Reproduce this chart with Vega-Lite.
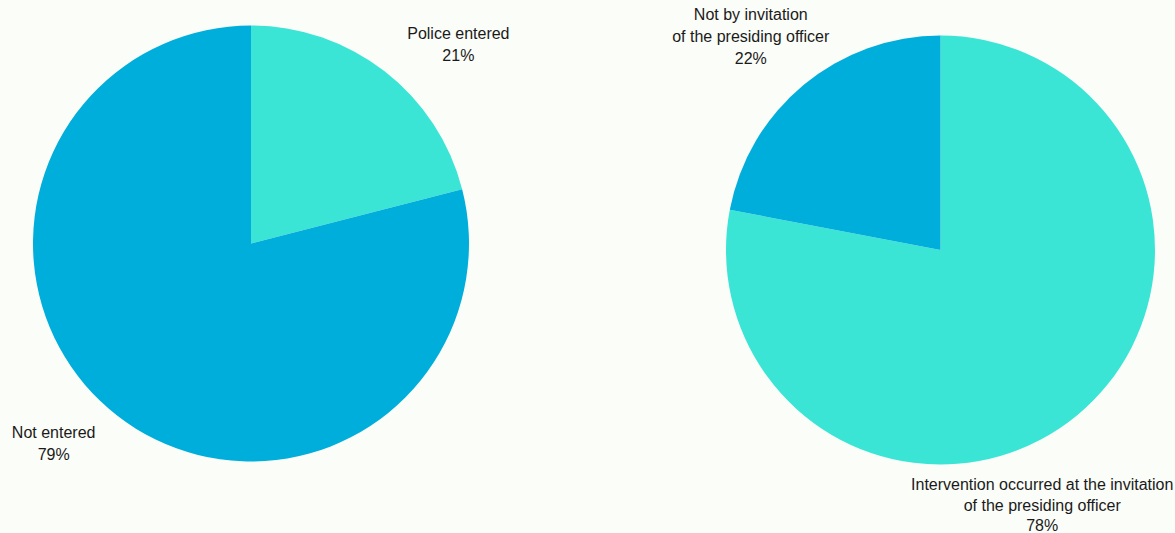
{
  "$schema": "https://vega.github.io/schema/vega-lite/v6.json",
  "background": "#FBFDF8",
  "padding": 0,
  "spacing": 204,
  "bounds": "flush",
  "config": {"view": {"stroke": null}, "text": {"font": "Liberation Sans", "fontSize": 16, "lineHeight": 22, "color": "#1a1a1a", "lineBreak": "\n", "baseline": "middle", "align": "center"}},
  "resolve": {"scale": {"color": "independent", "theta": "independent"}},
  "hconcat": [
    {
      "width": 502,
      "height": 487,
      "data": {"values": [
        {"category": "Police entered", "value": 21, "ord": 1, "label": "Police entered\n21%"},
        {"category": "Not entered", "value": 79, "ord": 2, "label": "Not entered\n79%"}
      ]},
      "encoding": {
        "theta": {"field": "value", "type": "quantitative", "stack": true},
        "order": {"field": "ord", "type": "quantitative"}
      },
      "layer": [
        {
          "mark": {"type": "arc", "outerRadius": 218},
          "encoding": {
            "color": {"field": "category", "type": "nominal", "legend": null,
              "scale": {"domain": ["Police entered", "Not entered"], "range": ["#3BE5D6", "#00AEDC"]}}
          }
        },
        {
          "mark": {"type": "text", "radius": 260, "dx": 48, "dy": -4},
          "encoding": {"text": {"condition": {"test": "datum.category === 'Police entered'", "field": "label"}, "value": ""}}
        },
        {
          "mark": {"type": "text", "radius": 260, "dx": -38, "dy": -16},
          "encoding": {"text": {"condition": {"test": "datum.category === 'Not entered'", "field": "label"}, "value": ""}}
        }
      ]
    },
    {
      "width": 469,
      "height": 500,
      "data": {"values": [
        {"category": "Intervention occurred at the invitation of the presiding officer", "value": 78, "ord": 1, "label": "Intervention occurred at the invitation\nof the presiding officer\n78%"},
        {"category": "Not by invitation of the presiding officer", "value": 22, "ord": 2, "label": "Not by invitation\nof the presiding officer\n22%"}
      ]},
      "encoding": {
        "theta": {"field": "value", "type": "quantitative", "stack": true},
        "order": {"field": "ord", "type": "quantitative"}
      },
      "layer": [
        {
          "mark": {"type": "arc", "outerRadius": 214.5},
          "encoding": {
            "color": {"field": "category", "type": "nominal", "legend": null,
              "scale": {"domain": ["Intervention occurred at the invitation of the presiding officer", "Not by invitation of the presiding officer"], "range": ["#3BE5D6", "#00AEDC"]}}
          }
        },
        {
          "mark": {"type": "text", "radius": 260, "dx": -64, "dy": 35, "lineHeight": 20.5},
          "encoding": {"text": {"condition": {"test": "datum.ord === 1", "field": "label"}, "value": ""}}
        },
        {
          "mark": {"type": "text", "radius": 260, "dx": -24, "dy": -35},
          "encoding": {"text": {"condition": {"test": "datum.ord === 2", "field": "label"}, "value": ""}}
        }
      ]
    }
  ]
}
